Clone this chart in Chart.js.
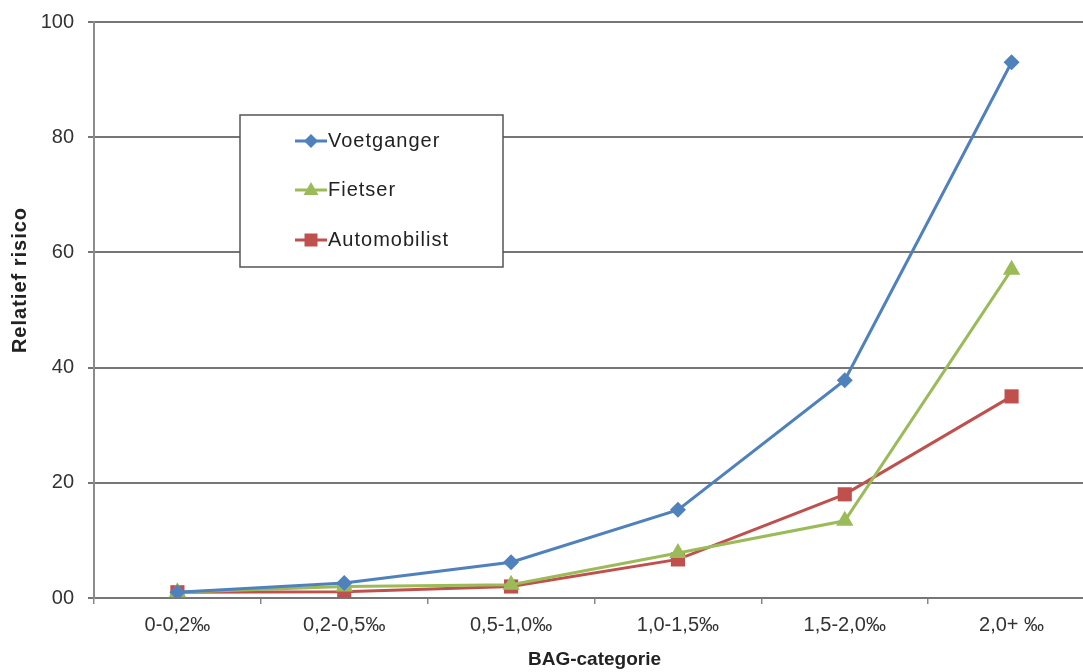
<!DOCTYPE html>
<html>
<head>
<meta charset="utf-8">
<script src="https://cdn.jsdelivr.net/npm/chart.js@4"></script>
<style>
  html, body { margin: 0; padding: 0; background: #fff; overflow: hidden; }
  #wrap { width: 1105px; height: 672px; }
</style>
</head>
<body>
<div id="wrap"><canvas id="chart-risico" width="1105" height="672"></canvas></div>
<script>
// BAG-categorieen en relatief risico per verkeersdeelnemer
var categorieen = ['0-0,2‰', '0,2-0,5‰', '0,5-1,0‰', '1,0-1,5‰', '1,5-2,0‰', '2,0+ ‰'];
var voetganger = [1, 2.6, 6.2, 15.3, 37.8, 93];
var fietser = [1, 2.0, 2.3, 7.8, 13.4, 57];
var automobilist = [1, 1.1, 2.0, 6.7, 18, 35];
var yTicks = [0, 20, 40, 60, 80, 100];

var blauw = '#4F81BD', groen = '#9BBB59', rood = '#C0504D';
var lettertype = '"Liberation Sans", Arial, sans-serif';

function marker(ctx, stijl, x, y, kleur) {
    ctx.fillStyle = kleur;
    ctx.beginPath();
    if (stijl === 'rectRot') {
        ctx.moveTo(x - 7, y); ctx.lineTo(x, y - 7); ctx.lineTo(x + 7, y); ctx.lineTo(x, y + 7);
    } else if (stijl === 'triangle') {
        ctx.moveTo(x, y - 8); ctx.lineTo(x + 7.5, y + 5); ctx.lineTo(x - 7.5, y + 5);
    } else {
        ctx.rect(x - 6.5, y - 6.5, 13, 13);
    }
    ctx.closePath();
    ctx.fill();
}

// Legenda als kader binnen het grafiekvlak, plus de titel van de y-as
var legendaKader = {
    id: 'legendaKader',
    afterDraw: function(chart) {
        var ctx = chart.ctx;
        ctx.save();
        ctx.fillStyle = '#fff';
        ctx.fillRect(240, 115, 263, 152);
        ctx.strokeStyle = '#555';
        ctx.lineWidth = 1.5;
        ctx.strokeRect(240, 115, 263, 152);
        var rijen = [141, 190, 240];
        chart.data.datasets.forEach(function(ds, i) {
            var y = rijen[i];
            ctx.strokeStyle = ds.borderColor;
            ctx.lineWidth = 3;
            ctx.beginPath(); ctx.moveTo(295, y); ctx.lineTo(327, y); ctx.stroke();
            marker(ctx, ds.pointStyle, 311, y, ds.borderColor);
            ctx.fillStyle = '#222';
            ctx.font = '20px ' + lettertype;
            ctx.letterSpacing = '1px';
            ctx.textBaseline = 'middle';
            ctx.textAlign = 'left';
            ctx.fillText(ds.label, 328, y);
        });
        // y-as titel
        ctx.translate(20, 280);
        ctx.rotate(-Math.PI / 2);
        ctx.font = 'bold 20px ' + lettertype;
        ctx.letterSpacing = '1px';
        ctx.textAlign = 'center';
        ctx.textBaseline = 'middle';
        ctx.fillStyle = '#222';
        ctx.fillText('Relatief risico', 0, 0);
        ctx.restore();
    }
};

function reeks(label, data, kleur, stijl, straal) {
    return {
        label: label, data: data,
        borderColor: kleur, backgroundColor: kleur,
        borderWidth: 3, pointStyle: stijl, pointRadius: straal,
        pointBorderWidth: 0, tension: 0
    };
}

new Chart(document.getElementById('chart-risico'), {
    type: 'line',
    data: {
        labels: categorieen,
        datasets: [
            reeks('Voetganger', voetganger, blauw, 'rectRot', 8),
            reeks('Fietser', fietser, groen, 'triangle', 10),
            reeks('Automobilist', automobilist, rood, 'rect', 10)
        ]
    },
    options: {
        responsive: false, animation: false,
        layout: { padding: { top: 22, right: 0, left: 0, bottom: 0 } },
        plugins: { legend: { display: false }, tooltip: { enabled: false } },
        scales: {
            x: {
                offset: true,
                grid: { display: true, offset: true, drawOnChartArea: false, drawTicks: true, tickLength: 6, color: '#888', lineWidth: 1.5 },
                border: { display: false },
                ticks: { color: '#333', padding: 9, font: { family: 'Liberation Sans', size: 20 } },
                title: { display: true, text: 'BAG-categorie', color: '#222', padding: { top: 0, bottom: 1 }, font: { family: 'Liberation Sans', size: 19, weight: 'bold' } },
                afterFit: function(s) { s.height = 74; s.paddingLeft = 0; s.paddingRight = 0; }
            },
            y: {
                min: 0, max: 100,
                afterBuildTicks: function(s) { s.ticks = yTicks.map(function(v) { return { value: v }; }); },
                grid: { color: '#767676', lineWidth: 2, drawTicks: true, tickLength: 6 },
                border: { display: true, color: '#8c8c8c', width: 2 },
                ticks: {
                    color: '#333', padding: 14, font: { family: 'Liberation Sans', size: 20 },
                    callback: function(v) { return v === 0 ? '00' : v; }
                },
                afterFit: function(s) { s.width = 94; s.paddingTop = 0; s.paddingBottom = 0; }
            }
        }
    },
    plugins: [legendaKader]
});
</script>
</body>
</html>
